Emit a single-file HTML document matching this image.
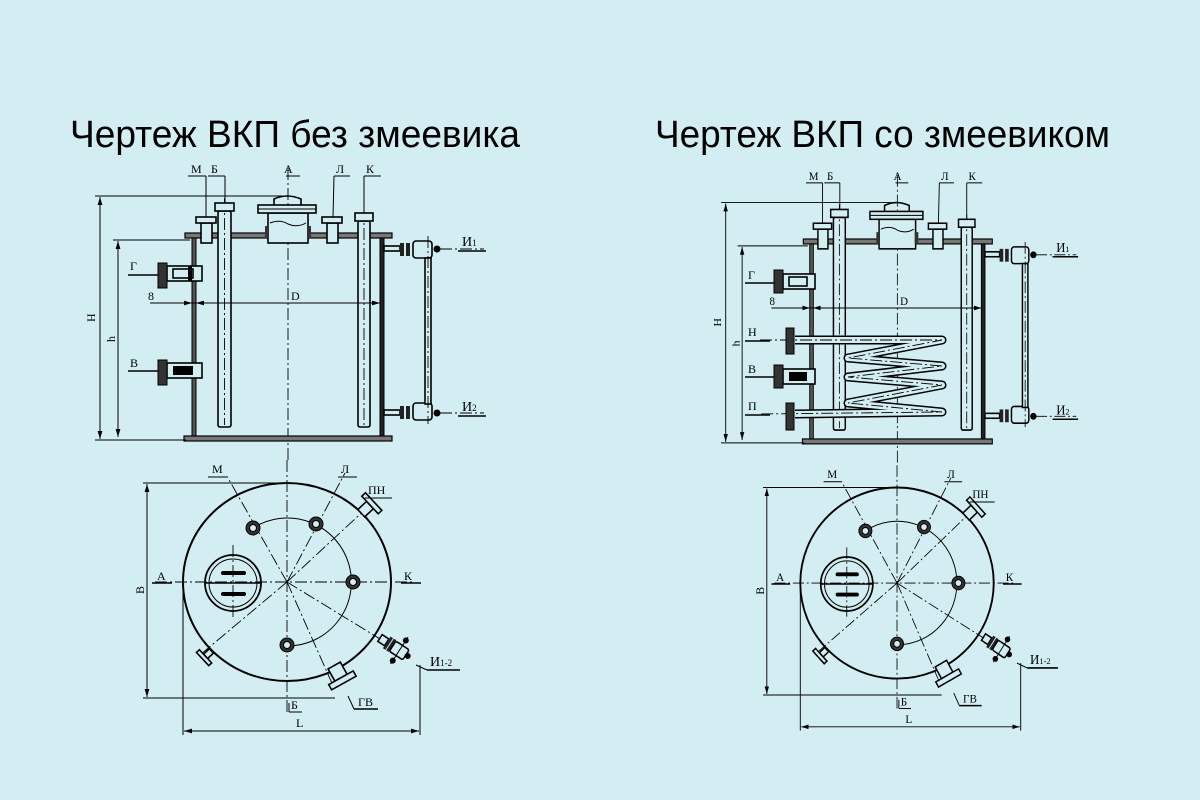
<!DOCTYPE html>
<html><head><meta charset="utf-8"><style>
html,body{margin:0;padding:0;background:#d3eef2;}
svg{display:block;}
.t{font-family:"Liberation Serif","DejaVu Serif",serif;font-size:12px;fill:#000;}
.ttl{font-family:"Liberation Sans","DejaVu Sans",sans-serif;font-size:38px;fill:#000;}
.l{stroke:#000;stroke-width:1;fill:none;}
.b{stroke:#000;stroke-width:1.6;fill:none;}
.p{stroke:#000;stroke-width:1.6;fill:#d3eef2;}
.c{stroke:#000;stroke-width:0.9;fill:none;stroke-dasharray:12 3 2 3;}
</style></head><body>
<svg width="1200" height="800" viewBox="0 0 1200 800" xmlns="http://www.w3.org/2000/svg">
<defs>
<marker id="a" viewBox="0 0 10 6" refX="10" refY="3" markerWidth="8" markerHeight="5" orient="auto-start-reverse" markerUnits="userSpaceOnUse"><path d="M0 0 L10 3 L0 6 z" fill="#000"/></marker>

<g id="front">
  <!-- centerline -->
  <line class="c" x1="288" y1="168" x2="288" y2="462"/>
  <!-- vessel -->
  <rect x="185" y="233" width="207" height="5" fill="#777" stroke="#000" stroke-width="1.2"/>
  <rect x="192" y="238" width="4" height="199" fill="#555" stroke="#000"/>
  <rect x="380" y="238" width="4" height="199" fill="#222" stroke="#000"/>
  <rect x="184" y="436" width="208" height="5" fill="#777" stroke="#000" stroke-width="1.2"/>
  <!-- pipe Б -->
  <rect class="p" x="218" y="211" width="13" height="216" rx="2"/>
  <line class="c" x1="224.5" y1="198" x2="224.5" y2="425"/>
  <rect class="p" x="215" y="203" width="19" height="8" stroke-width="2"/>
  <!-- pipe K -->
  <rect class="p" x="358" y="221" width="12" height="206" rx="2"/>
  <line class="c" x1="364" y1="208" x2="364" y2="425"/>
  <rect class="p" x="355" y="213" width="18" height="8" stroke-width="2"/>
  <!-- M, Л nozzles -->
  <rect class="p" x="201" y="223" width="11" height="20"/>
  <rect class="p" x="196" y="217" width="20" height="6" stroke-width="2"/>
  <rect class="p" x="327" y="223" width="11" height="20"/>
  <rect class="p" x="322" y="217" width="20" height="6" stroke-width="2"/>
  <!-- hatch A -->
  <rect class="p" x="268" y="213" width="40" height="30"/>
  <rect x="265" y="226" width="4" height="12" fill="#333"/>
  <rect x="307" y="226" width="4" height="12" fill="#333"/>
  <path class="l" d="M270 223 Q280 219 288 224 Q297 228 306 223"/>
  <rect class="p" x="258" y="205" width="58" height="8" stroke-width="2"/>
  <path class="b" d="M274 205 L274 199 Q287 193 301 199 L301 205" stroke-width="2.2"/>
  <line class="l" x1="258" y1="209" x2="316" y2="209"/>
  <!-- top labels -->
  <text class="t" x="191" y="173">М</text><line class="l" x1="188" y1="176" x2="206" y2="176"/><line class="l" x1="206" y1="176" x2="206" y2="217"/>
  <text class="t" x="211" y="173">Б</text><line class="l" x1="208" y1="176" x2="225" y2="176"/><line class="l" x1="225" y1="176" x2="225" y2="203"/>
  <text class="t" x="284" y="173">А</text><line class="l" x1="286" y1="176" x2="300" y2="176"/>
  <text class="t" x="336" y="173">Л</text><line class="l" x1="334" y1="176" x2="350" y2="176"/><line class="l" x1="334" y1="176" x2="333" y2="217"/>
  <text class="t" x="366" y="173">К</text><line class="l" x1="364" y1="176" x2="381" y2="176"/><line class="l" x1="364" y1="176" x2="364" y2="213"/>
  <!-- H dim -->
  <line class="l" x1="95" y1="196" x2="282" y2="196"/>
  <line class="l" x1="95" y1="440" x2="186" y2="440"/>
  <line class="l" x1="100" y1="197" x2="100" y2="439" marker-start="url(#a)" marker-end="url(#a)"/>
  <text class="t" transform="translate(95,322) rotate(-90)">H</text>
  <!-- h dim -->
  <line class="l" x1="113" y1="240" x2="190" y2="240"/>
  <line class="l" x1="118" y1="241" x2="118" y2="437" marker-start="url(#a)" marker-end="url(#a)"/>
  <text class="t" transform="translate(115,342) rotate(-90)">h</text>
  <!-- D dim -->
  <line class="l" x1="150" y1="303" x2="380" y2="303"/>
  <line class="l" x1="178" y1="303" x2="192" y2="303" marker-end="url(#a)"/>
  <line class="l" x1="210" y1="303" x2="196" y2="303" marker-end="url(#a)"/>
  <line class="l" x1="360" y1="303" x2="380" y2="303" marker-end="url(#a)"/>
  <text class="t" x="148" y="300">8</text>
  <text class="t" x="291" y="300">D</text>
  <!-- gauge -->
  <rect class="p" x="384" y="246" width="16" height="5" stroke-width="1"/>
  <rect class="p" x="384" y="410" width="16" height="5" stroke-width="1"/>
  <rect x="400" y="243" width="4" height="13" fill="#222"/><rect x="406" y="243" width="4" height="13" fill="#222"/>
  <rect x="400" y="406" width="4" height="13" fill="#222"/><rect x="406" y="406" width="4" height="13" fill="#222"/>
  <rect class="p" x="413" y="241" width="19" height="17" rx="3"/>
  <rect class="p" x="413" y="403" width="19" height="17" rx="3"/>
  <rect class="p" x="425" y="258" width="6" height="146" stroke-width="1.3"/>
  <line class="c" x1="428" y1="236" x2="428" y2="424"/>
  <circle cx="437" cy="249" r="3.5" fill="#000"/><circle cx="437" cy="413" r="3.5" fill="#000"/>
  <line class="c" x1="440" y1="249" x2="484" y2="249"/>
  <line class="c" x1="440" y1="413" x2="484" y2="413"/>
  <text class="t" x="462" y="246" style="font-size:14px">И<tspan style="font-size:9px">1</tspan></text>
  <line class="b" x1="458" y1="251" x2="486" y2="251"/>
  <text class="t" x="462" y="411" style="font-size:14px">И<tspan style="font-size:9px">2</tspan></text>
  <line class="b" x1="458" y1="416" x2="486" y2="416"/>
</g>

<g id="top">
  <line class="c" x1="155" y1="582" x2="415" y2="582"/>
  <line class="c" x1="287" y1="460" x2="287" y2="712"/>
  <g class="c">
    <line x1="287" y1="582" x2="228" y2="478"/>
    <line x1="287" y1="582" x2="345" y2="473"/>
    <line x1="287" y1="582" x2="370" y2="505"/>
    <line x1="287" y1="582" x2="385" y2="642"/>
    <line x1="287" y1="582" x2="335" y2="690"/>
    <line x1="287" y1="582" x2="200" y2="655"/>
  </g>
  <ellipse cx="287" cy="582" rx="104" ry="99" stroke="#000" stroke-width="2" fill="none"/>
  <path class="l" d="M253 528 A64 64 0 1 1 287 646" stroke-width="1.2"/>
  <!-- hatch -->
  <line class="c" x1="233" y1="545" x2="233" y2="620"/>
  <circle cx="233" cy="583" r="28" stroke="#000" stroke-width="1.8" fill="none"/>
  <circle cx="233" cy="583" r="24" class="l"/>
  <rect x="221" y="571" width="25" height="4" rx="2" fill="#000"/>
  <rect x="221" y="592" width="25" height="4" rx="2" fill="#000"/>
  <line class="b" x1="205" y1="583" x2="261" y2="583"/>
  <!-- nozzle circles -->
  <g stroke="#000" stroke-width="1">
    <circle cx="253" cy="528" r="7" fill="#333"/><circle cx="253" cy="528" r="3.5" fill="#d3eef2"/>
    <circle cx="316" cy="524" r="7" fill="#333"/><circle cx="316" cy="524" r="3.5" fill="#d3eef2"/>
    <circle cx="353" cy="582" r="7" fill="#333"/><circle cx="353" cy="582" r="3.5" fill="#d3eef2"/>
    <circle cx="287" cy="645" r="7" fill="#333"/><circle cx="287" cy="645" r="3.5" fill="#d3eef2"/>
  </g>
  <!-- PN -->
  <g transform="translate(370,505) rotate(-43)">
    <rect class="p" x="-12" y="-5" width="12" height="10" stroke-width="1.2"/>
    <rect class="p" x="0" y="-12" width="5" height="24" stroke-width="1.6"/>
  </g>
  <!-- GV -->
  <g transform="translate(340,676) rotate(61)">
    <rect class="p" x="-12" y="-7" width="14" height="14" stroke-width="1.2"/>
    <rect class="p" x="2" y="-14" width="6" height="28" stroke-width="1.6"/>
  </g>
  <!-- lower-left -->
  <g transform="translate(207,655) rotate(137)">
    <rect class="p" x="-6" y="-3" width="8" height="6" stroke-width="1"/>
    <rect class="p" x="2" y="-9" width="4" height="18" stroke-width="1.6"/>
  </g>
  <!-- И valve -->
  <g transform="translate(380,638) rotate(33)">
    <rect class="p" x="0" y="-4" width="8" height="8" stroke-width="1"/>
    <rect x="8" y="-7" width="3" height="14" fill="#222"/><rect x="12" y="-7" width="3" height="14" fill="#222"/>
    <rect class="p" x="15" y="-6" width="16" height="12" rx="2" stroke-width="1.2"/>
    <line class="l" x1="23" y1="-16" x2="23" y2="16"/>
    <circle cx="23" cy="-12" r="3" fill="#000"/><circle cx="23" cy="12" r="3" fill="#000"/>
    <circle cx="33" cy="0" r="3" fill="#000"/>
  </g>
  <!-- labels -->
  <text class="t" x="212" y="473">М</text><line class="l" x1="208" y1="477" x2="228" y2="477"/>
  <text class="t" x="341" y="473">Л</text><line class="l" x1="338" y1="477" x2="357" y2="477"/>
  <text class="t" x="368" y="494">ПН</text><line class="l" x1="365" y1="498" x2="392" y2="498"/>
  <text class="t" x="157" y="580">А</text><line class="b" x1="152" y1="583" x2="172" y2="583"/>
  <text class="t" x="404" y="580">К</text><line class="b" x1="401" y1="583" x2="421" y2="583"/>
  <text class="t" x="291" y="709">Б</text><line class="l" x1="289" y1="712" x2="302" y2="712"/><line class="l" x1="289" y1="703" x2="289" y2="712"/>
  <text class="t" x="358" y="706">ГВ</text><line class="b" x1="354" y1="709" x2="378" y2="709"/><line class="l" x1="348" y1="696" x2="354" y2="709"/>
  <text class="t" x="430" y="666" style="font-size:14px">И<tspan style="font-size:9px">1-2</tspan></text>
  <line class="b" x1="427" y1="670" x2="460" y2="670"/><line class="l" x1="416" y1="665" x2="427" y2="670"/>
  <!-- B dim -->
  <line class="l" x1="143" y1="483" x2="290" y2="483"/>
  <line class="l" x1="143" y1="698" x2="335" y2="698"/>
  <line class="l" x1="147" y1="484" x2="147" y2="697" marker-start="url(#a)" marker-end="url(#a)"/>
  <text class="t" transform="translate(144,594) rotate(-90)">В</text>
  <!-- L dim -->
  <line class="l" x1="183" y1="585" x2="183" y2="735"/>
  <line class="l" x1="420" y1="665" x2="420" y2="735"/>
  <line class="l" x1="184" y1="731" x2="419" y2="731" marker-start="url(#a)" marker-end="url(#a)"/>
  <text class="t" x="296" y="727">L</text>
</g>
</defs>

<rect width="1200" height="800" fill="#d3eef2"/>
<text class="ttl" x="70" y="147" textLength="450" lengthAdjust="spacingAndGlyphs">Чертеж ВКП без змеевика</text>
<text class="ttl" x="655" y="147" textLength="455" lengthAdjust="spacingAndGlyphs">Чертеж ВКП со змеевиком</text>

<!-- LEFT -->
<use href="#front"/>
<use href="#top"/>
<g>
  <rect class="p" x="167" y="266" width="35" height="15" stroke-width="1.3"/>
  <rect class="p" x="173" y="269" width="20" height="9" stroke-width="0.8"/>
  <rect x="158" y="263" width="9" height="25" fill="#333" stroke="#000"/>
  <rect x="188" y="266" width="4" height="15" fill="#000"/>
  <text class="t" x="130" y="270">Г</text><line class="b" x1="128" y1="275" x2="158" y2="275"/>
  <rect class="p" x="167" y="363" width="35" height="15" stroke-width="1.3"/>
  <rect x="173" y="366" width="20" height="9" fill="#000"/>
  <rect x="158" y="360" width="9" height="25" fill="#333" stroke="#000"/>
  <text class="t" x="130" y="367">В</text><line class="b" x1="128" y1="371" x2="158" y2="371"/>
</g>

<!-- RIGHT -->
<use href="#front" transform="translate(634.4,9.5) scale(0.913,0.985)"/>
<use href="#top" transform="translate(630.1,21.4) scale(0.93,0.965)"/>
<g>
  <!-- coil -->
  <polyline points="795,340 942,340 848,358 942,366 848,377 942,385 848,403 942,412 795,414" fill="none" stroke="#000" stroke-width="9" stroke-linejoin="round"/>
  <polyline points="795,340 942,340 848,358 942,366 848,377 942,385 848,403 942,412 795,414" fill="none" stroke="#d3eef2" stroke-width="6" stroke-linejoin="round"/>
  <polyline class="c" points="760,340 942,340 848,358 942,366 848,377 942,385 848,403 942,412 760,414"/>
  <rect x="786" y="328" width="8" height="26" fill="#333" stroke="#000"/>
  <rect x="786" y="403" width="8" height="27" fill="#333" stroke="#000"/>
  <text class="t" x="748" y="336">Н</text><line class="b" x1="745" y1="341" x2="770" y2="341"/>
  <text class="t" x="748" y="410">П</text><line class="b" x1="745" y1="415" x2="770" y2="415"/>
  <!-- Г -->
  <rect class="p" x="783" y="274" width="32" height="15" stroke-width="1.3"/>
  <rect class="p" x="789" y="277" width="18" height="9" stroke-width="0.8"/>
  <rect x="774" y="270" width="9" height="23" fill="#333" stroke="#000"/>
  <text class="t" x="748" y="279">Г</text><line class="b" x1="745" y1="283" x2="774" y2="283"/>
  <!-- В -->
  <rect class="p" x="783" y="369" width="32" height="15" stroke-width="1.3"/>
  <rect x="789" y="372" width="18" height="9" fill="#000"/>
  <rect x="774" y="365" width="9" height="23" fill="#333" stroke="#000"/>
  <text class="t" x="748" y="373">В</text><line class="b" x1="745" y1="377" x2="774" y2="377"/>
</g>
</svg>
</body></html>
